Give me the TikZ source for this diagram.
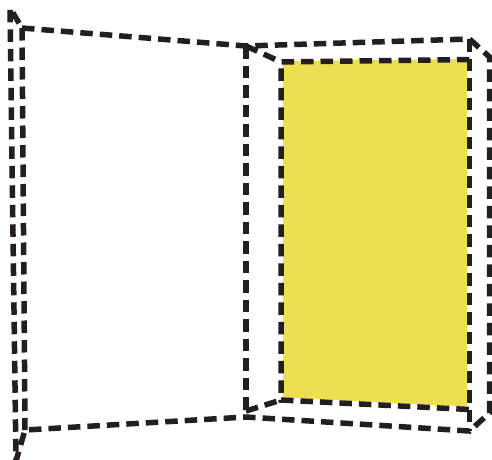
\documentclass[tikz,border=0pt]{standalone}
\definecolor{ink}{RGB}{35,31,32}
\definecolor{pageyellow}{RGB}{236,224,82}
\tikzset{
  dline/.style={draw=ink, line width=5.5pt, dash pattern=on 12.5pt off 7pt, line join=miter},
}
\begin{document}
\begin{tikzpicture}[x=1pt,y=-1pt]
\useasboundingbox (0,0) rectangle (492,459);
% corners
\coordinate (A) at (22,28);
\coordinate (B) at (246,46);
\coordinate (C) at (246,411);
\coordinate (Cb) at (246,417);
\coordinate (D) at (25,430);
\coordinate (E) at (469.5,39);
\coordinate (F) at (469.5,431);
\coordinate (O1) at (10,8);
\coordinate (O2) at (16,461);
\coordinate (R1) at (489.5,57);
\coordinate (R2) at (489.5,413);
\coordinate (Y1) at (281,62);
\coordinate (Y2) at (469.5,59.5);
\coordinate (Y3) at (469.5,409.5);
\coordinate (Y4) at (281,400);
% yellow page
\fill[pageyellow] (283,61) -- (467,59) -- (467,406.5) -- (283,397.5) -- cycle;
% outer contour
\draw[dline] (A) -- (B) -- (E) -- (R1) -- (R2) -- (F) -- (Cb) -- (D) -- (O2) -- (O1) -- cycle;
% inner edges
\draw[dline] (A) -- (D);
\draw[dline] (B) -- (C);
\draw[dline] (E) -- (F);
\draw[dline] (B) -- (Y1);
\draw[dline] (C) -- (Y4);
% yellow page border
\draw[dline] (Y2) -- (Y1) -- (Y4) -- (Y3);
\end{tikzpicture}
\end{document}
